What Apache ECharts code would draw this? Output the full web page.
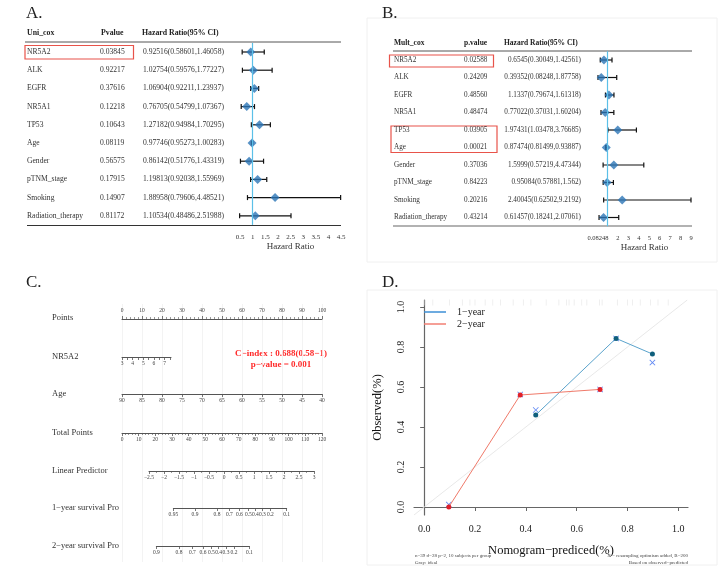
<!DOCTYPE html>
<html>
<head>
<meta charset="utf-8">
<script src="https://cdn.jsdelivr.net/npm/echarts@6/dist/echarts.min.js"></script>
<style>
html, body { margin: 0; padding: 0; background: #fff; }
#main { width: 719px; height: 569px; }
</style>
</head>
<body>
<div id="main"></div>
<script>
// ---- A. univariate cox ----
const uniNames = ['NR5A2', 'ALK', 'EGFR', 'NR5A1', 'TP53', 'Age', 'Gender', 'pTNM_stage', 'Smoking', 'Radiation_therapy'];
const uniP = ['0.03845', '0.92217', '0.37616', '0.12218', '0.10643', '0.08119', '0.56575', '0.17915', '0.14907', '0.81172'];
const uniHR = [0.92516, 1.02754, 1.06904, 0.76705, 1.27182, 0.97746, 0.86142, 1.19813, 1.88958, 1.10534];
const uniLo = [0.58601, 0.59576, 0.92211, 0.54799, 0.94984, 0.95273, 0.51776, 0.92038, 0.79606, 0.48486];
const uniHi = [1.46058, 1.77227, 1.23937, 1.07367, 1.70295, 1.00283, 1.43319, 1.55969, 4.48521, 2.51988];

// ---- B. multivariate cox ----
const multNames = uniNames;
const multP = ['0.02588', '0.24209', '0.48560', '0.48474', '0.03905', '0.00021', '0.37036', '0.84223', '0.20216', '0.43214'];
const multHR = [0.6545, 0.39352, 1.1337, 0.77022, 1.97431, 0.87474, 1.5999, 0.95084, 2.40045, 0.61457];
const multLo = [0.30049, 0.08248, 0.79674, 0.37031, 1.03478, 0.81499, 0.57219, 0.57881, 0.62502, 0.18241];
const multHi = [1.42561, 1.87758, 1.61318, 1.60204, 3.76685, 0.93887, 4.47344, 1.562, 9.2192, 2.07061];
const multTicks = [0.08248, 1, 2, 3, 4, 5, 6, 7, 8, 9];
const multTickLabels = [0.08248, 2, 3, 4, 5, 6, 7, 8, 9];

// ---- C. nomogram ----
const nomoLabels = ['Points', 'NR5A2', 'Age', 'Total Points', 'Linear Predictor', '1−year survival Pro', '2−year survival Pro'];
const nr5a2Ticks = [3, 3.5, 4, 4.5, 5, 5.5, 6, 6.5, 7, 7.5];
const nr5a2Labels = [3, 4, 5, 6, 7];
// survival axes: label and its position on the total points scale
const sur1Labels = ['0.95', '0.9', '0.8', '0.7', '0.6', '0.5', '0.4', '0.3', '0.2', '0.1'];
const sur1Pos = [30.8, 43.8, 57.0, 64.4, 70.4, 75.8, 80.0, 84.2, 89.0, 98.8];
const sur2Labels = ['0.9', '0.8', '0.7', '0.6', '0.5', '0.4', '0.3', '0.2', '0.1'];
const sur2Pos = [20.6, 34.2, 42.2, 48.6, 53.6, 58.0, 62.4, 67.2, 76.4];

// ---- D. calibration ----
const cal1Pred = [0.439, 0.755, 0.898];
const cal1Obs = [0.46, 0.843, 0.765];
const cal1Corr = [0.485, 0.843, 0.722];
const cal2Pred = [0.097, 0.378, 0.692];
const cal2Obs = [0.0, 0.56, 0.588];
const cal2Corr = [0.012, 0.563, 0.588];
const rugPred = [0.003, 0.034, 0.10, 0.15, 0.18, 0.20, 0.24, 0.27, 0.30, 0.35, 0.39, 0.42, 0.48, 0.53,
                 0.56, 0.57, 0.59, 0.62, 0.64, 0.69, 0.70, 0.76, 0.80, 0.82, 0.85, 0.89, 0.92, 0.96];
const calTicks = [0, 0.2, 0.4, 0.6, 0.8, 1.0];

const SERIF = 'Liberation Serif';
const xMark = 'path://M0,1 L1,0 L5,4 L9,0 L10,1 L6,5 L10,9 L9,10 L5,6 L1,10 L0,9 L4,5 Z';

function hrText(h, l, u) { return h + '(' + l + ',' + u + ')'; }

function tableAxis(gridIndex, data, offset, align, fontSize) {
    return {
        type: 'category', gridIndex: gridIndex, data: data, inverse: true,
        position: 'left', offset: offset,
        axisLine: { show: false }, axisTick: { show: false }, splitLine: { show: false },
        axisLabel: { align: align, margin: 0, interval: 0, fontFamily: SERIF, fontSize: fontSize, color: '#333' }
    };
}

function errorSeries(xi, yi, lo, hi, xMax) {
    return {
        type: 'custom', xAxisIndex: xi, yAxisIndex: yi, silent: true, z: 2,
        data: lo.map((l, i) => [l, hi[i], i]),
        encode: { x: [0, 1], y: 2 },
        renderItem: function (params, api) {
            const row = api.value(2);
            const a = api.coord([api.value(0), row]);
            const b = api.coord([Math.min(api.value(1), xMax), row]);
            const st = { stroke: '#111', lineWidth: 1.2 };
            const h = 2.5;
            return {
                type: 'group', children: [
                    { type: 'line', shape: { x1: a[0], y1: a[1], x2: b[0], y2: b[1] }, style: st },
                    { type: 'line', shape: { x1: a[0], y1: a[1] - h, x2: a[0], y2: a[1] + h }, style: st },
                    { type: 'line', shape: { x1: b[0], y1: b[1] - h, x2: b[0], y2: b[1] + h }, style: st }
                ]
            };
        }
    };
}

function pointSeries(xi, yi, hr) {
    return {
        type: 'scatter', xAxisIndex: xi, yAxisIndex: yi, z: 3, silent: true,
        data: hr.map((h, i) => [h, i]),
        symbol: 'diamond', symbolSize: [9, 9],
        itemStyle: { color: '#2c76b7' },
        markLine: {
            silent: true, symbol: 'none', label: { show: false },
            lineStyle: { color: '#5bc0e8', width: 1.2, type: 'solid' },
            data: [{ xAxis: 1 }]
        }
    };
}

const hrAxisLabel = { fontFamily: SERIF, fontSize: 7, color: '#333', margin: 9 };
const hrName = { fontFamily: SERIF, fontSize: 9, color: '#333' };

// nomogram helpers
const cLeft = 122, cWidth = 200;
function tpX(tp) { return cLeft + tp / 120 * cWidth; }
const nomoTickLabel = { fontFamily: SERIF, fontSize: 5.5, color: '#444', margin: 4 };
const nomoLine = { lineStyle: { color: '#555', width: 1 } };
const nomoTick = { length: 3, lineStyle: { color: '#555', width: 0.8 } };
const nomoY = [318, 357, 394, 433, 471, 508, 546];

function nomoGrid(y, left, width, top) {
    return { left: left, width: width, top: top ? y : y - 1, height: 1 };
}
function hiddenY(gi) {
    return { type: 'value', gridIndex: gi, min: 0, max: 1, show: false };
}

const grids = [
    { left: 240, top: 42.9, width: 101, height: 182 },     // 0 A
    { left: 598, top: 51.25, width: 93, height: 175 },     // 1 B
    nomoGrid(nomoY[0], cLeft, cWidth, true),               // 2 points
    nomoGrid(nomoY[1], cLeft, 49),                         // 3 NR5A2
    nomoGrid(nomoY[2], cLeft, cWidth),                     // 4 age
    nomoGrid(nomoY[3], cLeft, cWidth),                     // 5 total points
    nomoGrid(nomoY[4], 149, 165),                          // 6 linear predictor
    nomoGrid(nomoY[5], tpX(sur1Pos[0]), tpX(sur1Pos[sur1Pos.length - 1]) - tpX(sur1Pos[0])), // 7
    nomoGrid(nomoY[6], tpX(sur2Pos[0]), tpX(sur2Pos[sur2Pos.length - 1]) - tpX(sur2Pos[0])), // 8
    { left: cLeft, width: cWidth, top: 304, height: 258 },  // 9 C background
    { left: 414, right: 31, top: 300, bottom: 54 }          // 10 D
];

const xAxes = [
    { type: 'value', gridIndex: 0, min: 0.5, max: 4.5, interval: 0.5,
      axisLine: { lineStyle: { color: '#222', width: 1.3 } },
      axisTick: { length: 4, lineStyle: { color: '#222', width: 1.3 } },
      axisLabel: hrAxisLabel, splitLine: { show: false },
      name: 'Hazard Ratio', nameLocation: 'middle', nameGap: 17, nameTextStyle: hrName },
    { type: 'value', gridIndex: 1, min: 0.08248, max: 9,
      axisLine: { lineStyle: { color: '#222', width: 1.3 } },
      axisTick: { length: 4, customValues: multTicks, lineStyle: { color: '#222', width: 1.3 } },
      axisLabel: Object.assign({}, hrAxisLabel, { customValues: multTickLabels, fontSize: 6.5 }),
      splitLine: { show: false },
      name: 'Hazard Ratio', nameLocation: 'middle', nameGap: 16, nameTextStyle: hrName },
    { type: 'value', gridIndex: 2, min: 0, max: 100, interval: 10, position: 'top',
      axisLine: nomoLine, axisTick: nomoTick, axisLabel: nomoTickLabel, splitLine: { show: false },
      minorTick: { show: true, splitNumber: 5, length: 2, lineStyle: { color: '#555', width: 0.6 } } },
    { type: 'value', gridIndex: 3, min: 3, max: 7.6,
      axisLine: nomoLine, axisTick: Object.assign({ customValues: nr5a2Ticks }, nomoTick),
      axisLabel: Object.assign({ customValues: nr5a2Labels }, nomoTickLabel), splitLine: { show: false } },
    { type: 'value', gridIndex: 4, min: 40, max: 90, interval: 5, inverse: true,
      axisLine: nomoLine, axisTick: nomoTick, axisLabel: nomoTickLabel, splitLine: { show: false } },
    { type: 'value', gridIndex: 5, min: 0, max: 120, interval: 10,
      axisLine: nomoLine, axisTick: nomoTick, axisLabel: nomoTickLabel, splitLine: { show: false },
      minorTick: { show: true, splitNumber: 5, length: 2, lineStyle: { color: '#555', width: 0.6 } } },
    { type: 'value', gridIndex: 6, min: -2.5, max: 3, interval: 0.5,
      axisLine: nomoLine, axisTick: nomoTick, splitLine: { show: false },
      axisLabel: Object.assign({ formatter: v => (v < 0 ? '−' : '') + Math.abs(v) }, nomoTickLabel),
      minorTick: { show: true, splitNumber: 2, length: 2, lineStyle: { color: '#555', width: 0.6 } } },
    { type: 'value', gridIndex: 7, min: sur1Pos[0], max: sur1Pos[sur1Pos.length - 1],
      axisLine: nomoLine, axisTick: Object.assign({ customValues: sur1Pos }, nomoTick), splitLine: { show: false },
      axisLabel: Object.assign({ customValues: sur1Pos, formatter: v => sur1Labels[sur1Pos.indexOf(v)] }, nomoTickLabel) },
    { type: 'value', gridIndex: 8, min: sur2Pos[0], max: sur2Pos[sur2Pos.length - 1],
      axisLine: nomoLine, axisTick: Object.assign({ customValues: sur2Pos }, nomoTick), splitLine: { show: false },
      axisLabel: Object.assign({ customValues: sur2Pos, formatter: v => sur2Labels[sur2Pos.indexOf(v)] }, nomoTickLabel) },
    { type: 'value', gridIndex: 9, min: 0, max: 100, interval: 10,
      axisLine: { show: false }, axisTick: { show: false }, axisLabel: { show: false },
      splitLine: { show: true, lineStyle: { color: '#f0f0f0', width: 0.8 } } },
    { type: 'value', gridIndex: 10, min: -0.04, max: 1.038,
      axisLine: { lineStyle: { color: '#666', width: 1.2 } },
      axisTick: { customValues: calTicks, length: 4, lineStyle: { color: '#666' } },
      axisLabel: { customValues: calTicks, formatter: v => v.toFixed(1), fontFamily: SERIF, fontSize: 10, color: '#222', margin: 9 },
      splitLine: { show: false },
      name: 'Nomogram−prediced(%)', nameLocation: 'middle', nameGap: 29,
      nameTextStyle: { fontFamily: SERIF, fontSize: 12.5, color: '#111' } }
];

const yAxes = [
    tableAxis(0, uniNames, 213, 'left', 7.6),
    tableAxis(0, uniP, 140, 'left', 7.6),
    tableAxis(0, uniHR.map((h, i) => hrText(h, uniLo[i], uniHi[i])), 97, 'left', 7.6),
    tableAxis(1, multNames, 204, 'left', 7.2),
    tableAxis(1, multP, 134, 'left', 7.2),
    tableAxis(1, multHR.map((h, i) => hrText(h, multLo[i], multHi[i])), 17, 'right', 7.2),
    hiddenY(2), hiddenY(3), hiddenY(4), hiddenY(5), hiddenY(6), hiddenY(7), hiddenY(8), hiddenY(9),
    { type: 'value', gridIndex: 10, min: -0.04, max: 1.035,
      axisLine: { show: true, lineStyle: { color: '#666', width: 1.2 } },
      axisTick: { show: true, customValues: calTicks, length: 4, lineStyle: { color: '#666' } },
      axisLabel: { customValues: calTicks, formatter: v => v.toFixed(1), rotate: 90, fontFamily: SERIF, fontSize: 10, color: '#222', margin: 8 },
      splitLine: { show: false },
      name: 'Observed(%)', nameLocation: 'middle', nameGap: 30,
      nameTextStyle: { fontFamily: SERIF, fontSize: 12.5, color: '#111' } }
];

const series = [
    errorSeries(0, 0, uniLo, uniHi, 4.5),
    pointSeries(0, 0, uniHR),
    errorSeries(1, 3, multLo, multHi, 9),
    pointSeries(1, 3, multHR),
    // D
    { type: 'line', xAxisIndex: 10, yAxisIndex: 14, silent: true, symbol: 'none',
      data: [[-0.04, -0.04], [1.035, 1.035]], lineStyle: { color: '#e2e2e2', width: 0.8 }, z: 1 },
    { type: 'scatter', xAxisIndex: 10, yAxisIndex: 14, silent: true,
      data: rugPred.map(p => [p, 1.022]), symbol: 'rect', symbolSize: [0.7, 6],
      itemStyle: { color: '#e2e2e2' } },
    { name: '1−year x', type: 'scatter', xAxisIndex: 10, yAxisIndex: 14, silent: true, z: 2,
      data: cal1Pred.map((p, i) => [p, cal1Corr[i]]), symbol: xMark, symbolSize: 6,
      itemStyle: { color: '#3b6cf0' } },
    { name: '2−year x', type: 'scatter', xAxisIndex: 10, yAxisIndex: 14, silent: true, z: 2,
      data: cal2Pred.map((p, i) => [p, cal2Corr[i]]), symbol: xMark, symbolSize: 6,
      itemStyle: { color: '#3b6cf0' } },
    { name: '1−year', type: 'line', xAxisIndex: 10, yAxisIndex: 14, silent: true, z: 3,
      data: cal1Pred.map((p, i) => [p, cal1Obs[i]]), symbol: 'circle', symbolSize: 5,
      itemStyle: { color: '#0f5f7c' }, lineStyle: { color: '#5aa3cc', width: 1 } },
    { name: '2−year', type: 'line', xAxisIndex: 10, yAxisIndex: 14, silent: true, z: 3,
      data: cal2Pred.map((p, i) => [p, cal2Obs[i]]), symbol: 'circle', symbolSize: 5,
      itemStyle: { color: '#e0202a' }, lineStyle: { color: '#f07a6a', width: 1 } }
];

// texts, rules and boxes
const graphic = [];
function txt(x, y, text, opt) {
    graphic.push({ type: 'text', x: x, y: y, style: Object.assign({
        text: text, fontFamily: SERIF, fontSize: 8, fill: '#222', verticalAlign: 'middle' }, opt || {}) });
}
function rule(x1, y1, x2, y2, color, w) {
    graphic.push({ type: 'line', shape: { x1: x1, y1: y1, x2: x2, y2: y2 }, style: { stroke: color, lineWidth: w } });
}
function box(x, y, w, h, color, lw) {
    graphic.push({ type: 'rect', shape: { x: x, y: y, width: w, height: h }, style: { fill: null, stroke: color, lineWidth: lw } });
}

box(367, 18, 350, 244, '#f0f0f0', 1);
box(367, 290, 350, 275, '#f0f0f0', 1);

txt(26, 14, 'A.', { fontSize: 17 });
txt(382, 14, 'B.', { fontSize: 17 });
txt(26, 283, 'C.', { fontSize: 17 });
txt(382, 283, 'D.', { fontSize: 17 });

// A table
txt(27, 33, 'Uni_cox', { fontWeight: 'bold', fontSize: 7.8 });
txt(101, 33, 'Pvalue', { fontWeight: 'bold', fontSize: 7.8 });
txt(142, 33, 'Hazard Ratio(95% CI)', { fontWeight: 'bold', fontSize: 7.8 });
rule(25, 42, 341, 42, '#555', 1);
rule(27, 225.5, 341, 225.5, '#333', 1);
box(25, 45.5, 108.5, 13.5, '#e8534a', 1.2);

// B table
txt(394, 43, 'Mult_cox', { fontWeight: 'bold', fontSize: 7.5 });
txt(464, 43, 'p.value', { fontWeight: 'bold', fontSize: 7.5 });
txt(504, 43, 'Hazard Ratio(95% CI)', { fontWeight: 'bold', fontSize: 7.5 });
rule(393, 51, 692, 51, '#555', 1);
rule(393, 226, 692, 226, '#999', 1.5);
box(389.5, 55, 104, 12, '#e8534a', 1.2);
box(391, 126, 106, 26.5, '#e8534a', 1.2);

// C labels
nomoLabels.forEach((l, i) => txt(52, nomoY[i], l, { fontSize: 8.5, fill: '#333' }));
txt(281, 354, 'C−index : 0.688(0.58−1)', { fontSize: 9, fontWeight: 'bold', fill: '#ff2a2a', align: 'center' });
txt(281, 364.5, 'p−value = 0.001', { fontSize: 9, fontWeight: 'bold', fill: '#ff2a2a', align: 'center' });

// D footnotes
txt(415, 556, 'n=39 d=28 p=2, 10 subjects per group', { fontSize: 5, fill: '#444' });
txt(415, 562.5, 'Gray: ideal', { fontSize: 5, fill: '#444' });
txt(688, 556, 'X − resampling optimism added, B=200', { fontSize: 5, fill: '#444', align: 'right' });
txt(688, 562.5, 'Based on observed−predicted', { fontSize: 5, fill: '#444', align: 'right' });

const chart = echarts.init(document.getElementById('main'));
chart.setOption({
    backgroundColor: '#fff',
    animation: false,
    grid: grids,
    xAxis: xAxes,
    yAxis: yAxes,
    series: series,
    legend: {
        data: [{ name: '1−year', itemStyle: { color: '#3d8fd6' } }, { name: '2−year', itemStyle: { color: '#f27f73' } }],
        orient: 'vertical', left: 424, top: 307, padding: 0, icon: 'rect',
        itemWidth: 22, itemHeight: 1.5, itemGap: 2, selectedMode: false,
        textStyle: { fontFamily: SERIF, fontSize: 10, color: '#222', padding: [0, 0, 0, 6] }
    },
    graphic: graphic
});
</script>
</body>
</html>
